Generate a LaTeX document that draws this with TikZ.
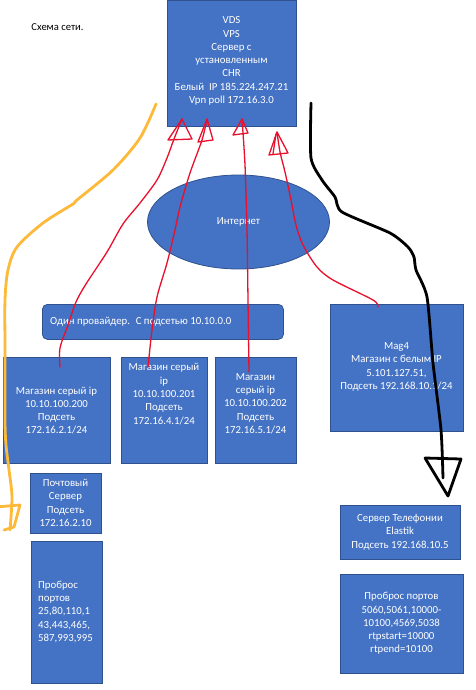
\documentclass[tikz,border=0pt]{standalone}
\usepackage{fontspec}
\setmainfont{Carlito}
\usetikzlibrary{shapes.geometric}
\definecolor{boxblue}{HTML}{4472C4}
\definecolor{boxedge}{HTML}{2F528F}
\definecolor{penred}{HTML}{E8102C}
\definecolor{penorange}{HTML}{FDBA3A}
\begin{document}
\begin{tikzpicture}[x=1pt,y=-1pt,
  box/.style={draw=boxedge, fill=boxblue, line width=0.8pt, anchor=north west, inner sep=0pt},
  txt/.style={text=white, align=center, font=\fontsize{10.8}{13.3}\selectfont, inner sep=0pt},
  txtl/.style={txt, align=left},
  redpen/.style={draw=penred, line width=1.3pt, line join=round, line cap=round},
  orangepen/.style={draw=penorange, line width=2.8pt, line join=round, line cap=round},
  blackpen/.style={draw=black, line width=2.8pt, line join=round, line cap=round}]
\useasboundingbox (0,0) rectangle (476,690);
\fill[white] (0,0) rectangle (476,690);

\node[font=\fontsize{10.6}{12}\selectfont] (title) at (57.5,27) {Схема сети.};

% boxes
\node[box, minimum width=129pt, minimum height=126pt] (vds) at (167,0) {};
\node[txt] (vdstxt) at (231.5,61) {VDS\\VPS\\Сервер с\\установленным\\CHR\\Белый~ IP 185.224.247.21\\Vpn poll 172.16.3.0};

\node[ellipse, draw=boxedge, fill=boxblue, line width=0.8pt, minimum width=182pt, minimum height=94pt, inner sep=0pt, text=white, font=\fontsize{10.8}{13.3}\selectfont] (inet) at (238.5,222) {Интернет};

\node[box, rounded corners=5pt, minimum width=241pt, minimum height=35pt] (prov) at (42,304) {};
\node[txt, anchor=west] (provtxt) at (50,322) {Один провайдер.~ С подсетью 10.10.0.0};

\node[box, minimum width=133pt, minimum height=127pt] (mag4) at (330,304) {};
\node[txt] (mag4txt) at (396.5,367) {Mag4\\Магазин с белым IP\\5.101.127.51,\\Подсеть 192.168.10.1/24};

\node[box, minimum width=107pt, minimum height=106pt] (shop1) at (3,357) {};
\node[txt] (shop1txt) at (56.5,410.5) {Магазин серый ip\\10.10.100.200\\Подсеть\\172.16.2.1/24};

\node[box, minimum width=86pt, minimum height=106pt] (shop2) at (121,357) {};
\node[txt] (shop2txt) at (164,394) {Магазин серый\\ip\\10.10.100.201\\Подсеть\\172.16.4.1/24};

\node[box, minimum width=81pt, minimum height=106pt] (shop3) at (215,357) {};
\node[txt] (shop3txt) at (255.5,403.5) {Магазин\\серый ip\\10.10.100.202\\Подсеть\\172.16.5.1/24};

\node[box, minimum width=71pt, minimum height=60pt] (mail) at (30,473) {};
\node[txt] (mailtxt) at (65.5,503) {Почтовый\\Сервер\\Подсеть\\172.16.2.10};

\node[box, minimum width=71pt, minimum height=142pt] (ports1) at (31,541) {};
\node[txtl, anchor=west] (ports1txt) at (38,612) {Проброс\\портов\\25,80,110,1\\43,443,465,\\587,993,995};

\node[box, minimum width=120pt, minimum height=54pt] (tel) at (340,505) {};
\node[txt] (teltxt) at (400,532) {Сервер Телефонии\\Elastik\\Подсеть 192.168.10.5};

\node[box, minimum width=123pt, minimum height=99pt] (ports2) at (340,574) {};
\node[txt] (ports2txt) at (401.5,623.5) {Проброс портов\\5060,5061,10000-\\10100,4569,5038\\rtpstart=10000\\rtpend=10100};

% red connectors
\coordinate (r1s) at (60,367); \coordinate (r1e) at (182,119);
\coordinate (r2s) at (148,367); \coordinate (r2e) at (207,119);
\coordinate (r3s) at (249,372); \coordinate (r3e) at (242,119);
\coordinate (r4s) at (378,307); \coordinate (r4e) at (277,132);

\draw[redpen] plot[smooth, tension=0.5] coordinates {(r1s) (60,348) (68,325) (76,302) (86,284) (107,252) (123,224) (140,203) (157,180) (167,158) (174,139) (r1e)};
\draw[redpen] (r1e) -- (168,140) -- (192,139) -- cycle;

\draw[redpen] plot[smooth, tension=0.5] coordinates {(r2s) (152,330) (157,297) (167,263) (175,230) (180,207) (190,173) (202,140) (r2e)};
\draw[redpen] (r2e) -- (198,142) -- (213,140) -- cycle;

\draw[redpen] plot[smooth, tension=0.5] coordinates {(r3s) (248,300) (247,230) (245,165) (r3e)};
\draw[redpen] (r3e) -- (233,135) -- (248,133) -- cycle;

\draw[redpen] plot[smooth, tension=0.5] coordinates {(r4s) (373,300) (333,280) (317,267) (303,245) (296,225) (291,200) (285,172) (280,152) (r4e)};
\draw[redpen] (r4e) -- (269,155) -- (288,153) -- cycle;
\draw[redpen] (276,134) -- (273,154);

% orange connector
\coordinate (os) at (156,104); \coordinate (oe) at (10,530);
\draw[orangepen] plot[smooth, tension=0.5] coordinates {(os) (140,138) (113,170) (77,200) (73,204) (43,223) (17,247) (8,270) (5,300) (5,350) (5,420) (6,445) (9,470) (12,497) (oe)};
\draw[orangepen] (-4,507) -- (20,505) -- (14,527) -- (4,530);

% black connector
\coordinate (bs) at (311,103); \coordinate (be) at (443,478);
\draw[blackpen] plot[smooth, tension=0.4] coordinates {(bs) (311,158) (322,180) (335,197) (342,212) (390,233) (408,247) (414,257) (416,270) (427,297) (433,363) (441,430) (be)};
\draw[blackpen] (425,458) -- (461,459) -- (448,496) -- cycle;
\end{tikzpicture}
\end{document}
